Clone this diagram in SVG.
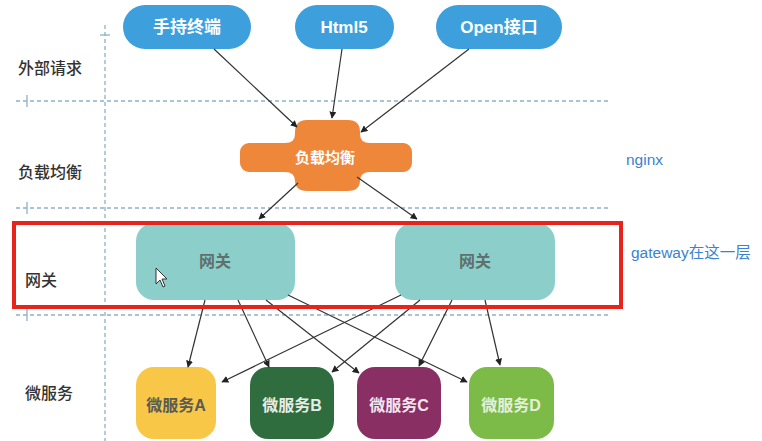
<svg xmlns="http://www.w3.org/2000/svg" width="762" height="441" viewBox="0 0 762 441">
<defs>
<marker id="ah" viewBox="0 0 10 10" refX="9" refY="5" markerWidth="7" markerHeight="7" orient="auto" markerUnits="userSpaceOnUse">
<path d="M0,0 L10,5 L0,10 Z" fill="#222"/>
</marker>
<style>
.grid{stroke:#8fb0c8;stroke-width:1.3;stroke-dasharray:4 3;fill:none}
.tick{stroke:#8fb0c8;stroke-width:1.3;fill:none}
.lane{font-family:"Noto Sans CJK SC","Liberation Sans",sans-serif;font-size:16px;fill:#333;font-weight:500}
.pill{fill:#3d9fdc}
.pilltxt{font-family:"Liberation Sans","Noto Sans CJK SC",sans-serif;font-size:17px;font-weight:bold;fill:#fff}
.gw{fill:#8ccfca}
.gwtxt{font-family:"Noto Sans CJK SC",sans-serif;font-size:16px;font-weight:bold;fill:#5f706d}
.svc{font-family:"Liberation Sans","Noto Sans CJK SC",sans-serif;font-size:16px;font-weight:bold}
.edge{stroke:#333;stroke-width:1.2;fill:none;marker-end:url(#ah)}
.note{font-family:"Liberation Sans","Noto Sans CJK SC",sans-serif;font-size:15.5px;fill:#3b82d0}
</style>
</defs>
<rect width="762" height="441" fill="#fff"/>

<g id="grid">
<line class="grid" x1="105" y1="25" x2="105" y2="441"/>
<line class="tick" x1="100" y1="35" x2="110" y2="35"/>
<line class="grid" x1="16" y1="101" x2="608" y2="101"/>
<line class="tick" x1="27" y1="95" x2="27" y2="107"/>
<line class="grid" x1="16" y1="208" x2="608" y2="208"/>
<line class="tick" x1="27" y1="202" x2="27" y2="214"/>
<line class="grid" x1="16" y1="315" x2="608" y2="315"/>
<line class="tick" x1="27" y1="309" x2="27" y2="321"/>
</g>

<g id="lanes">
<text class="lane" x="18" y="74">外部请求</text>
<text class="lane" x="18" y="178">负载均衡</text>
<text class="lane" x="25" y="286">网关</text>
<text class="lane" x="25" y="399">微服务</text>
</g>

<g id="node-mobile">
<rect class="pill" x="123" y="5" width="128" height="44" rx="22"/>
<text class="pilltxt" x="187" y="33" text-anchor="middle">手持终端</text>
</g>
<g id="node-html5">
<rect class="pill" x="295" y="5" width="99" height="44" rx="22"/>
<text class="pilltxt" x="344" y="33" text-anchor="middle">Html5</text>
</g>
<g id="node-open">
<rect class="pill" x="436" y="5" width="126" height="44" rx="22"/>
<text class="pilltxt" x="499" y="33" text-anchor="middle">Open接口</text>
</g>

<g id="node-lb">
<path fill="#ef873a" d="M307,120 L348,120 Q360,120 360,132 L360,134 Q360,143 370,143 L404,143 A9,9 0 0 1 412,152 L412,163 A9,9 0 0 1 404,172 L370,172 Q360,172 360,181 L360,180 Q360,191 348,191 L307,191 Q295,191 295,180 L295,181 Q295,172 285,172 L249,172 A9,9 0 0 1 240,163 L240,152 A9,9 0 0 1 249,143 L285,143 Q295,143 295,134 L295,132 Q295,120 307,120 Z"/>
<text x="325" y="163" text-anchor="middle" font-family="Noto Sans CJK SC,sans-serif" font-size="15" font-weight="bold" fill="#fff">负载均衡</text>
</g>

<g id="node-gw1">
<rect class="gw" x="136" y="223" width="159" height="77" rx="18"/>
<text class="gwtxt" x="215" y="267" text-anchor="middle">网关</text>
</g>
<g id="node-gw2">
<rect class="gw" x="395" y="223" width="160" height="77" rx="18"/>
<text class="gwtxt" x="475" y="267" text-anchor="middle">网关</text>
</g>

<g id="node-svcA">
<rect x="136" y="367" width="80" height="72" rx="18" fill="#f8c748"/>
<text class="svc" x="176" y="411" text-anchor="middle" fill="#5a5a55">微服务A</text>
</g>
<g id="node-svcB">
<rect x="250" y="367" width="84" height="72" rx="18" fill="#2f6d3f"/>
<text class="svc" x="292" y="411" text-anchor="middle" fill="#e6ece6">微服务B</text>
</g>
<g id="node-svcC">
<rect x="357" y="367" width="84" height="72" rx="18" fill="#8a2f63"/>
<text class="svc" x="399" y="411" text-anchor="middle" fill="#f2e6ee">微服务C</text>
</g>
<g id="node-svcD">
<rect x="469" y="367" width="85" height="72" rx="18" fill="#7dbb48"/>
<text class="svc" x="511" y="411" text-anchor="middle" fill="#e4f0da">微服务D</text>
</g>

<g id="connectors">
<line class="edge" x1="214" y1="49" x2="297" y2="127"/>
<line class="edge" x1="342" y1="49" x2="332" y2="118"/>
<line class="edge" x1="469" y1="49" x2="361" y2="132"/>
<line class="edge" x1="298" y1="183" x2="259" y2="219"/>
<line class="edge" x1="357" y1="177" x2="417" y2="219"/>
<line class="edge" x1="205" y1="300" x2="188" y2="367"/>
<line class="edge" x1="238" y1="300" x2="269" y2="367"/>
<line class="edge" x1="266" y1="300" x2="359" y2="373"/>
<line class="edge" x1="288" y1="295" x2="467" y2="382"/>
<line class="edge" x1="401" y1="295" x2="222" y2="382"/>
<line class="edge" x1="420" y1="300" x2="332" y2="372"/>
<line class="edge" x1="452" y1="300" x2="419" y2="366"/>
<line class="edge" x1="485" y1="300" x2="500" y2="365"/>
</g>

<g id="highlight">
<rect x="14" y="223" width="607" height="84" fill="none" stroke="#e8231b" stroke-width="4"/>
</g>

<g id="cursor">
<path d="M156,268 L156,284 L160,280 L163,287 L165,286 L162,279 L167,279 Z" fill="#fff" stroke="#333" stroke-width="1"/>
</g>

<g id="notes">
<text class="note" x="626" y="165">nginx</text>
<text class="note" x="631" y="258">gateway在这一层</text>
</g>
</svg>
